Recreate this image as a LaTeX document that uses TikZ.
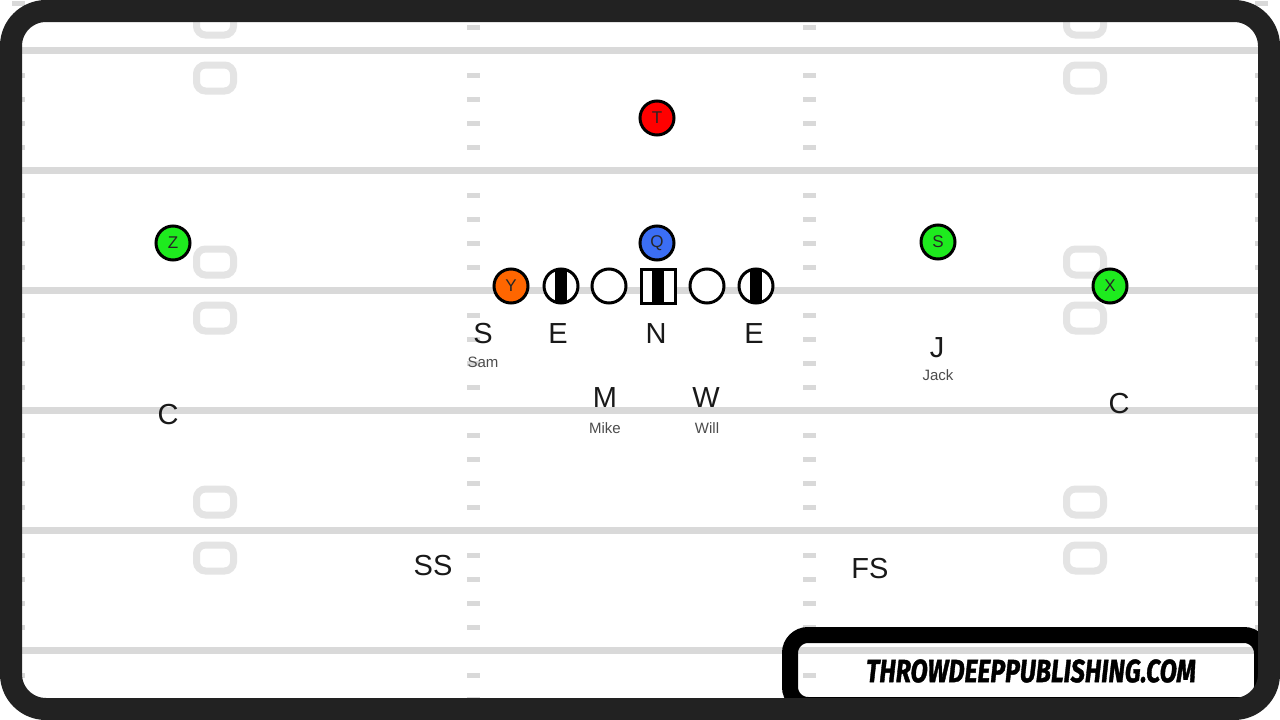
\documentclass[tikz,border=0pt]{standalone}
\usepackage{fontspec}
\setmainfont{Liberation Sans}
\newfontfamily\wmfont[FakeBold=1.4]{Fira Sans}
\usepackage{xcolor}
\usetikzlibrary{positioning, calc}
\definecolor{fieldline}{HTML}{D9D9D9}
\definecolor{numgray}{HTML}{E4E4E4}
\definecolor{framegray}{HTML}{222222}
\definecolor{offgreen}{RGB}{30,235,30}
\definecolor{offred}{HTML}{FF0000}
\definecolor{offblue}{HTML}{3B6EF5}
\definecolor{offorange}{HTML}{FF6600}

\begin{document}
\begin{tikzpicture}[x=1pt,y=-1pt,
    player/.style={circle,draw,line width=3pt,minimum size=34pt,inner sep=0pt,font=\fontsize{17}{17}\selectfont,text=black!85},
    dline/.style={circle,draw,line width=3pt,minimum size=34pt,inner sep=0pt,fill=white},
    stripe/.style={path picture={\fill[black] ([xshift=-6pt]path picture bounding box.north) rectangle ([xshift=6pt]path picture bounding box.south);}},
    deflabel/.style={font=\fontsize{29}{29}\selectfont,text=black!90},
    defname/.style={font=\fontsize{15}{15}\selectfont,text=black!70}]
    \useasboundingbox (0,0) rectangle (1280,720);
    \fill[white] (0,0) rectangle (1280,720);
    % yard lines
    \foreach \y in {50,170,...,650}
        \draw[fieldline, line width=7pt] (0,\y+0.5) -- (1280,\y+0.5);
    % hash marks
    \foreach \k in {0,...,29}{
        \pgfmathtruncatemacro{\r}{mod(\k+3,5)}
        \ifnum\r>0
            \foreach \x in {12,467,803,1255}
                \fill[fieldline] (\x,0.5+24*\k) rectangle ++(13,5);
        \fi}
    % yard numbers
    \foreach \x in {215,1085}
        \foreach \y in {22,78,262,318,502,558}
            \draw[numgray, line width=7pt, rounded corners=9pt] (\x-18.5,\y-13) rectangle (\x+18.5,\y+13);

    % offense
    \node[player,fill=offred] (t) at (657,118) {T};
    \node[player,fill=offblue] (q) at (657,243) {Q};
    \node[player,fill=offgreen] (z) at (173,243) {Z};
    \node[player,fill=offgreen] (s) at (938,242) {S};
    \node[player,fill=offgreen] (x) at (1110,286) {X};
    \node[player,fill=offorange] (y) at (511,286) {Y};
    \node[dline,stripe] (lt) at (561,286) {};
    \node[dline] (lg) at (609,286) {};
    \node[dline,rectangle,stripe] (ctr) at (658,286) {};
    \node[dline] (rg) at (707,286) {};
    \node[dline,stripe] (rt) at (756,286) {};

    % defense
    \node[deflabel] (sam) at (483,334) {S};
    \node[defname] (samname) at (483,362) {Sam};
    \node[deflabel] (de1) at (558,334) {E};
    \node[deflabel] (nose) at (656,334) {N};
    \node[deflabel] (de2) at (754,334) {E};
    \node[deflabel] (mike) at (605,398) {M};
    \node[defname] (mikename) at (605,428) {Mike};
    \node[deflabel] (will) at (706,398) {W};
    \node[defname] (willname) at (707,428) {Will};
    \node[deflabel] (jack) at (937,348) {J};
    \node[defname] (jackname) at (938,375) {Jack};
    \node[deflabel] (cbl) at (168,415) {C};
    \node[deflabel] (cbr) at (1119,404) {C};
    \node[deflabel] (ss) at (433,566) {SS};
    \node[deflabel] (fs) at (870,569) {FS};

    % watermark and frame
    \draw[black, line width=16pt, rounded corners=18pt] (790,635) rectangle (1262,705);
    \draw[framegray, line width=22pt, rounded corners=35pt] (11,11) rectangle (1269,709);
    \node[font=\wmfont\fontsize{32}{32}\bfseries\itshape] (site) at (1031,671) {\scalebox{0.78}[1]{THROWDEEPPUBLISHING.COM}};
\end{tikzpicture}
\end{document}
